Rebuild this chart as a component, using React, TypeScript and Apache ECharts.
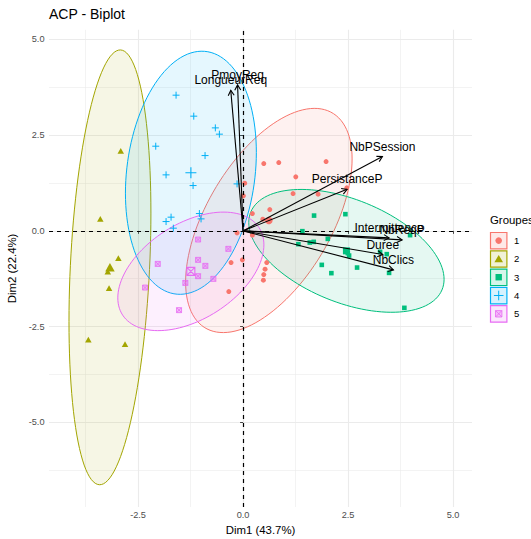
import React, { useEffect, useRef } from "react";
import * as echarts from "echarts";

// ---- data ----
const groupNames = ["1", "2", "3", "4", "5"];
const groupColors = ["#F8766D", "#A3A500", "#00BF7D", "#00B0F6", "#E76BF3"];

const group1: [number, number][] = [
  [0.493, 1.757], [0.85, 1.783], [1.976, 1.809], [1.255, 1.41], [0.04, 1.245],
  [1.19, 0.974], [1.786, 0.958], [2.469, 1.123], [0.007, 0.914], [0.636, 0.556],
  [0.221, 0.452], [0.469, 0.305], [0.221, -0.112], [-0.286, -0.828], [-0.017, -0.757],
  [0.564, -0.828], [0.524, -1.0], [0.493, -1.141], [0.483, -1.287], [-0.34, -1.585],
  [-0.143, -0.052],
];
const group2: [number, number][] = [
  [-2.912, 2.089], [-3.398, 0.313], [-2.969, -0.713], [-3.221, -1.063],
  [-3.19, -1.496], [-3.683, -2.838], [-2.81, -2.958],
];
const group3: [number, number][] = [
  [1.69, 0.399], [2.436, 0.436], [1.412, -0.008], [3.976, -0.112], [1.683, -0.287],
  [1.588, -0.305], [1.317, -0.347], [2.017, -0.209], [2.493, -0.582], [2.524, -0.645],
  [3.421, -0.608], [1.874, -0.888], [2.714, -0.958], [2.102, -1.104], [3.476, -1.097],
  [3.84, -2.01], [3.262, -0.548],
];
const group4: [number, number][] = [
  [-1.595, 3.543], [-1.174, 2.995], [-0.66, 2.689], [-0.564, 2.525], [-2.079, 2.211],
  [-0.905, 1.966], [-1.833, 1.462], [-1.19, 1.183], [-0.143, 1.227], [-1.04, 0.452],
  [-1.0, 0.313], [-1.714, 0.358], [-1.833, 0.243], [-1.66, 0.07],
];
const group5: [number, number][] = [
  [-1.071, -0.227], [-0.35, -0.47], [-2.031, -0.862], [-1.071, -0.757], [-0.898, -0.914],
  [-1.071, -1.183], [-0.707, -1.253], [-1.374, -1.358], [-2.333, -1.48], [-1.524, -2.07],
];
const groups = [group1, group2, group3, group4, group5];

const varNames = ["NbPSession", "PersistanceP", "Intermittence", "NbReqP", "Duree", "NbClics", "PmoyReq", "LongueurReq"];
const varX = [3.317, 2.476, 3.476, 3.786, 3.326, 3.579, -0.131, -0.293];
const varY = [1.94, 1.084, -0.183, -0.235, -0.619, -1.018, 3.812, 3.668];

const xMajor = [-2.5, 0, 2.5, 5];
const xMinor = [-3.75, -1.25, 1.25, 3.75];
const yMajor = [-5, -2.5, 0, 2.5, 5];
const yMinor = [-6.25, -3.75, -1.25, 1.25, 3.75];
const xLimits = [-4.62, 5.45];
const yLimits = [-7.21, 5.25];

const FONT = "'Liberation Sans', Arial, Helvetica, sans-serif";

function rgba(hex: string, a: number) {
  const n = parseInt(hex.slice(1), 16);
  return `rgba(${(n >> 16) & 255},${(n >> 8) & 255},${n & 255},${a})`;
}

function mean(pts: [number, number][]): [number, number] {
  let sx = 0, sy = 0;
  pts.forEach((p) => { sx += p[0]; sy += p[1]; });
  return [sx / pts.length, sy / pts.length];
}

// normal-theory 95% ellipse (as ggplot2 stat_ellipse type = "norm")
function ellipse(pts: [number, number][]): [number, number][] {
  const n = pts.length;
  const [mx, my] = mean(pts);
  let sxx = 0, syy = 0, sxy = 0;
  pts.forEach((p) => {
    sxx += (p[0] - mx) ** 2;
    syy += (p[1] - my) ** 2;
    sxy += (p[0] - mx) * (p[1] - my);
  });
  sxx /= n - 1; syy /= n - 1; sxy /= n - 1;
  const d = n - 1;
  const q = (d / 2) * (Math.pow(0.05, -2 / d) - 1);
  const rad = Math.sqrt(2 * q);
  const r11 = Math.sqrt(sxx), r12 = sxy / r11, r22 = Math.sqrt(Math.max(syy - r12 * r12, 0));
  const out: [number, number][] = [];
  const seg = 120;
  for (let i = 0; i <= seg; i++) {
    const t = (2 * Math.PI * i) / seg;
    const u = Math.cos(t), v = Math.sin(t);
    out.push([mx + rad * u * r11, my + rad * (u * r12 + v * r22)]);
  }
  return out;
}

const plusPath = "path://M5,0L5,10M0,5L10,5";
const boxXPath = "path://M0,0L10,0L10,10L0,10ZM0,0L10,10M10,0L0,10";

const pointStyles = [
  { symbol: "circle", size: 5, csize: 7.5, fill: 1, border: 0 },
  { symbol: "triangle", size: [6.5, 5.8], csize: [9.5, 8.5], fill: 1, border: 0 },
  { symbol: "rect", size: 4.6, csize: 7, fill: 1, border: 0 },
  { symbol: plusPath, size: 7, csize: 11, fill: 0, border: 1 },
  { symbol: boxXPath, size: 5, csize: 8, fill: 0.35, border: 0.8 },
];

export default function App() {
  const ref = useRef<HTMLDivElement>(null);
  useEffect(() => {
    if (!ref.current) return;
    const chart = echarts.init(ref.current, undefined, { renderer: "svg" });

    const gridLineData: any[] = [
      ...xMinor.map((v) => ({ xAxis: v, lineStyle: { color: "#EBEBEB", width: 0.6, type: "solid" } })),
      ...yMinor.map((v) => ({ yAxis: v, lineStyle: { color: "#EBEBEB", width: 0.6, type: "solid" } })),
      ...xMajor.map((v) => ({ xAxis: v, lineStyle: { color: "#EBEBEB", width: 1.1, type: "solid" } })),
      ...yMajor.map((v) => ({ yAxis: v, lineStyle: { color: "#EBEBEB", width: 1.1, type: "solid" } })),
    ];

    const series: any[] = [];
    series.push({
      type: "line",
      data: [],
      silent: true,
      z: 0,
      markLine: { silent: true, symbol: ["none", "none"], label: { show: false }, z: 0, data: gridLineData },
    });

    groups.forEach((pts, gi) => {
      const ell = ellipse(pts);
      const col = groupColors[gi];
      series.push({
        type: "custom",
        name: "ellipse" + groupNames[gi],
        coordinateSystem: "cartesian2d",
        silent: true,
        z: 1,
        data: [mean(pts)],
        renderItem: (_p: any, api: any) => ({
          type: "polygon",
          shape: { points: ell.map((q) => api.coord(q)) },
          style: { fill: rgba(col, 0.1), stroke: col, lineWidth: 1 },
        }),
      });
    });

    groups.forEach((pts, gi) => {
      const col = groupColors[gi];
      const st = pointStyles[gi];
      series.push({
        type: "scatter",
        name: groupNames[gi],
        data: pts,
        symbol: st.symbol,
        symbolSize: st.size,
        silent: true,
        z: 2,
        itemStyle: {
          color: st.fill === 1 ? col : st.fill === 0 ? "transparent" : rgba(col, st.fill),
          borderColor: col,
          borderWidth: st.border,
          opacity: 1,
        },
      });
      series.push({
        type: "scatter",
        name: "centre" + groupNames[gi],
        data: [mean(pts)],
        symbol: st.symbol,
        symbolSize: st.csize,
        silent: true,
        z: 3,
        itemStyle: {
          color: st.fill === 1 ? col : "transparent",
          borderColor: col,
          borderWidth: st.border ? 1.1 : 0,
          opacity: 1,
        },
      });
    });

    series.push({
      type: "line",
      data: [],
      silent: true,
      z: 4,
      markLine: {
        silent: true,
        symbol: ["none", "none"],
        label: { show: false },
        z: 4,
        data: [
          { xAxis: 0, lineStyle: { color: "#000", width: 1.2, type: [4, 4] } },
          { yAxis: 0, lineStyle: { color: "#000", width: 1.2, type: [4, 4] } },
        ],
      },
    });

    series.push({
      type: "custom",
      name: "variables",
      coordinateSystem: "cartesian2d",
      silent: true,
      z: 5,
      data: varNames.map((_n, i) => [varX[i], varY[i]]),
      renderItem: (params: any, api: any) => {
        const i = params.dataIndex;
        const o = api.coord([0, 0]);
        const p = api.coord([varX[i], varY[i]]);
        const ang = Math.atan2(p[1] - o[1], p[0] - o[0]);
        const L = 6, a = Math.PI / 6;
        const h1 = [p[0] - L * Math.cos(ang - a), p[1] - L * Math.sin(ang - a)];
        const h2 = [p[0] - L * Math.cos(ang + a), p[1] - L * Math.sin(ang + a)];
        return {
          type: "group",
          children: [
            { type: "line", shape: { x1: o[0], y1: o[1], x2: p[0], y2: p[1] }, style: { stroke: "#000", lineWidth: 1.1 } },
            { type: "polyline", shape: { points: [h1, p, h2] }, style: { stroke: "#000", lineWidth: 1.1, fill: "none" } },
            {
              type: "text",
              x: p[0],
              y: p[1] - 10,
              style: {
                text: varNames[i],
                fill: "#000",
                fontSize: 12,
                fontFamily: FONT,
                align: "center",
                verticalAlign: "middle",
                textAlign: "center",
                textVerticalAlign: "middle",
              },
            },
          ],
        };
      },
    });

    // legend drawn as graphic keys
    const legendChildren: any[] = [
      {
        type: "text",
        x: 490,
        y: 219.5,
        style: { text: "Groupes", fill: "#000", fontSize: 11.4, fontFamily: FONT, verticalAlign: "middle", textVerticalAlign: "middle" },
      },
    ];
    groupNames.forEach((g, i) => {
      const col = groupColors[i];
      const top = 232 + i * 18.3;
      const cx = 498.7, cy = top + 8.6;
      legendChildren.push({
        type: "rect",
        shape: { x: 490.5, y: top + 0.5, width: 16.4, height: 16.4 },
        style: { fill: rgba(col, 0.16), stroke: col, lineWidth: 1.2 },
      });
      if (i === 0) legendChildren.push({ type: "circle", shape: { cx, cy, r: 3.3 }, style: { fill: col } });
      if (i === 1)
        legendChildren.push({ type: "polygon", shape: { points: [[cx, cy - 4], [cx + 4.3, cy + 3.3], [cx - 4.3, cy + 3.3]] }, style: { fill: col } });
      if (i === 2) legendChildren.push({ type: "rect", shape: { x: cx - 3.2, y: cy - 3.2, width: 6.4, height: 6.4 }, style: { fill: col } });
      if (i === 3) {
        legendChildren.push({ type: "line", shape: { x1: cx - 4.8, y1: cy, x2: cx + 4.8, y2: cy }, style: { stroke: col, lineWidth: 1 } });
        legendChildren.push({ type: "line", shape: { x1: cx, y1: cy - 4.8, x2: cx, y2: cy + 4.8 }, style: { stroke: col, lineWidth: 1 } });
      }
      if (i === 4) {
        legendChildren.push({ type: "rect", shape: { x: cx - 3.2, y: cy - 3.2, width: 6.4, height: 6.4 }, style: { fill: rgba(col, 0.35), stroke: col, lineWidth: 0.8 } });
        legendChildren.push({ type: "line", shape: { x1: cx - 3.2, y1: cy - 3.2, x2: cx + 3.2, y2: cy + 3.2 }, style: { stroke: col, lineWidth: 0.8 } });
        legendChildren.push({ type: "line", shape: { x1: cx + 3.2, y1: cy - 3.2, x2: cx - 3.2, y2: cy + 3.2 }, style: { stroke: col, lineWidth: 0.8 } });
      }
      legendChildren.push({
        type: "text",
        x: 514,
        y: cy,
        style: { text: g, fill: "#000", fontSize: 9.5, fontFamily: FONT, verticalAlign: "middle", textVerticalAlign: "middle" },
      });
    });

    const axisCommon = {
      type: "value",
      axisLine: { show: false },
      splitLine: { show: false },
      nameTextStyle: { color: "#000", fontSize: 11.4, fontFamily: FONT },
    };

    chart.setOption({
      animation: false,
      backgroundColor: "#fff",
      title: {
        text: "ACP - Biplot",
        left: 49,
        top: 7,
        padding: 0,
        textStyle: { fontSize: 14, fontWeight: "normal", color: "#000", fontFamily: FONT },
      },
      grid: { left: 49, right: 59, top: 29.8, bottom: 32, containLabel: false, outerBoundsMode: "none" },
      xAxis: {
        ...axisCommon,
        min: xLimits[0],
        max: xLimits[1],
        name: "Dim1 (43.7%)",
        nameLocation: "middle",
        nameGap: 17.5,
        axisTick: { show: true, customValues: xMajor, length: 3, lineStyle: { color: "#333", width: 0.9 } },
        axisLabel: {
          customValues: xMajor,
          formatter: (v: number) => v.toFixed(1),
          color: "#4D4D4D",
          fontSize: 9.2,
          fontFamily: FONT,
          margin: 3.5,
        },
      },
      yAxis: {
        ...axisCommon,
        min: yLimits[0],
        max: yLimits[1],
        name: "Dim2 (22.4%)",
        nameLocation: "middle",
        nameRotate: 90,
        nameGap: 24,
        axisTick: { show: true, customValues: yMajor, length: 3, lineStyle: { color: "#333", width: 0.9 } },
        axisLabel: {
          customValues: yMajor,
          formatter: (v: number) => v.toFixed(1),
          color: "#4D4D4D",
          fontSize: 9.2,
          fontFamily: FONT,
          margin: 4.5,
        },
      },
      graphic: [{ type: "group", children: legendChildren, silent: true }],
      series,
    });
    return () => chart.dispose();
  }, []);
  return <div ref={ref} style={{ position: "fixed", left: 0, top: 0, width: 531, height: 539 }} />;
}
